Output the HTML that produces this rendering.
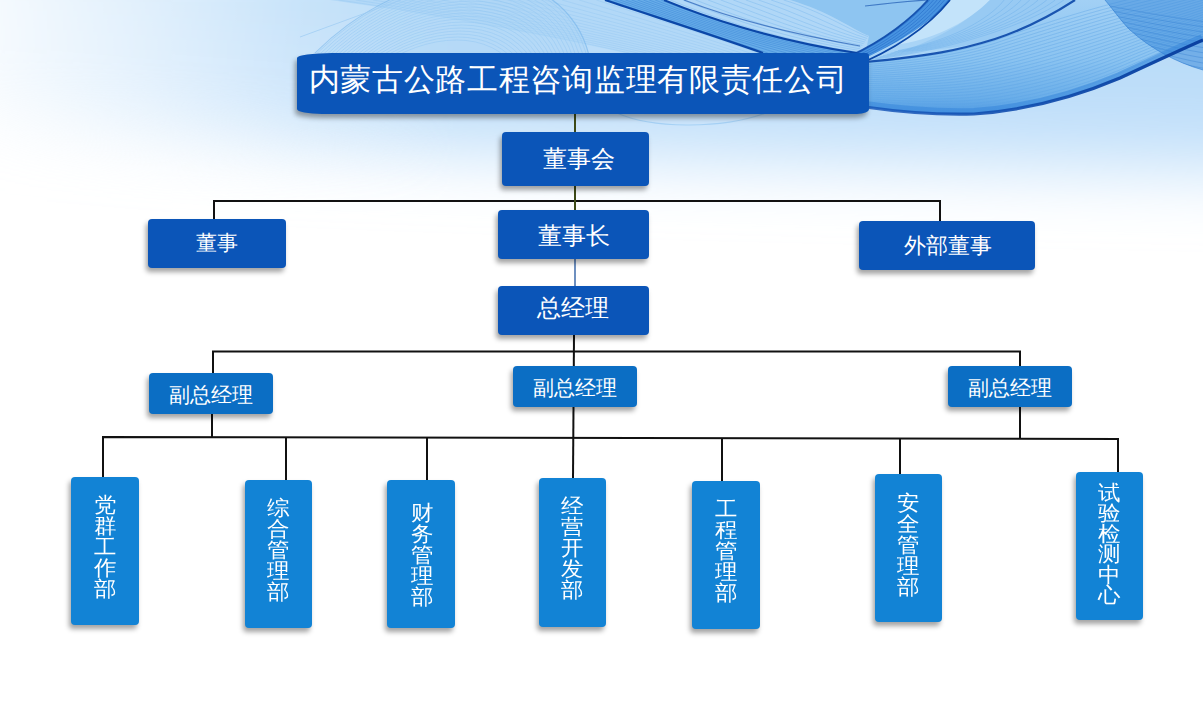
<!DOCTYPE html>
<html><head><meta charset="utf-8">
<style>
html,body{margin:0;padding:0;}
body{width:1203px;height:705px;position:relative;overflow:hidden;background:#fff;font-family:"Liberation Sans",sans-serif;}
#bg{position:absolute;left:0;top:0;width:1203px;height:705px;}
#ln{position:absolute;left:0;top:0;width:1203px;height:705px;}
.b{position:absolute;box-sizing:border-box;color:#fff;text-align:center;border-radius:4px;background:#0b55b8;box-shadow:-2px 4px 5px rgba(0,0,0,.36);}
.b span{position:absolute;left:0;right:0;white-space:nowrap;}
.p{background:#0b6ec4;}
.d{background:#1283d5;}
.v span{white-space:normal;width:22px;right:auto;word-break:break-all;}
</style></head><body>
<svg id="bg" viewBox="0 0 1203 705">
<defs>
<filter id="bl30" x="-50%" y="-50%" width="200%" height="200%"><feGaussianBlur stdDeviation="34"/></filter>
<linearGradient id="gs" x1="0" y1="0" x2="0" y2="115" gradientUnits="userSpaceOnUse">
<stop offset="0" stop-color="#a2d0f5"/>
<stop offset="0.5" stop-color="#8cc4f1"/>
<stop offset="0.85" stop-color="#6aaee9"/>
<stop offset="1" stop-color="#4f9ae3"/>
</linearGradient>
<linearGradient id="ge" x1="865" y1="0" x2="1203" y2="0" gradientUnits="userSpaceOnUse">
<stop offset="0" stop-color="#1454b8" stop-opacity="0.8"/>
<stop offset="1" stop-color="#0a40a0"/>
</linearGradient>
</defs>
<rect x="0" y="0" width="1203" height="705" fill="#fff"/>
<linearGradient id="gh" x1="0" y1="0" x2="1203" y2="0" gradientUnits="userSpaceOnUse">
<stop offset="0" stop-color="#282828"/>
<stop offset="0.12" stop-color="#707070"/>
<stop offset="0.25" stop-color="#c8c8c8"/>
<stop offset="0.38" stop-color="#fff"/>
</linearGradient>
<mask id="mh" maskUnits="userSpaceOnUse" x="0" y="0" width="1203" height="705"><rect x="0" y="0" width="1203" height="705" fill="url(#gh)"/></mask>
<g mask="url(#mh)"><g filter="url(#bl30)">
<path d="M-80 -80H1300V172C1000 166 650 160 300 146C150 136 40 125 -80 115Z" fill="#c2e0fa"/>
<path d="M-80 -80H1300V90C900 80 500 60 -80 20Z" fill="#b8dbf8"/>
</g></g>
<path d="M330.0 0.0C430.0 14.0 540.0 34.0 625.0 53.0L763.0 53.0C715.0 36.0 665.0 20.0 605.0 0.0 Z" fill="#b2d8f7" opacity="1"/>
<path d="M338.6 0.0C437.3 14.2 545.5 34.1 629.3 53.0 M355.8 0.0C452.0 14.6 556.4 34.2 637.9 53.0 M373.0 0.0C466.7 14.9 567.3 34.3 646.6 53.0 M390.2 0.0C481.4 15.3 578.3 34.4 655.2 53.0 M407.3 0.0C496.1 15.7 589.2 34.6 663.8 53.0 M424.5 0.0C510.8 16.1 600.2 34.7 672.4 53.0 M441.7 0.0C525.5 16.4 611.1 34.8 681.1 53.0 M458.9 0.0C540.2 16.8 622.0 34.9 689.7 53.0 M476.1 0.0C554.8 17.2 633.0 35.1 698.3 53.0 M493.3 0.0C569.5 17.6 643.9 35.2 706.9 53.0 M510.5 0.0C584.2 17.9 654.8 35.3 715.6 53.0 M527.7 0.0C598.9 18.3 665.8 35.4 724.2 53.0 M544.8 0.0C613.6 18.7 676.7 35.6 732.8 53.0 M562.0 0.0C628.3 19.1 687.7 35.7 741.4 53.0 M579.2 0.0C643.0 19.4 698.6 35.8 750.1 53.0 M596.4 0.0C657.7 19.8 709.5 35.9 758.7 53.0" fill="none" stroke="#8fc5f2" stroke-width="0.8" opacity="0.45"/>
<clipPath id="cdome"><path d="M250 0H605C665 20 715 36 763 53H250Z"/></clipPath>
<g clip-path="url(#cdome)"><g transform="translate(420 140) skewX(-20) translate(-420 -140)"><circle cx="420" cy="140" r="162" fill="#a9d4f6" opacity="0.4"/><g fill="none" stroke="#8ec4f2" stroke-width="0.7" opacity="0.55"><circle cx="420" cy="140" r="100"/><circle cx="420" cy="140" r="103"/><circle cx="420" cy="140" r="106"/><circle cx="420" cy="140" r="109"/><circle cx="420" cy="140" r="112"/><circle cx="420" cy="140" r="115"/><circle cx="420" cy="140" r="118"/><circle cx="420" cy="140" r="121"/><circle cx="420" cy="140" r="124"/><circle cx="420" cy="140" r="127"/><circle cx="420" cy="140" r="130"/><circle cx="420" cy="140" r="133"/><circle cx="420" cy="140" r="136"/><circle cx="420" cy="140" r="139"/><circle cx="420" cy="140" r="142"/><circle cx="420" cy="140" r="145"/><circle cx="420" cy="140" r="148"/><circle cx="420" cy="140" r="151"/><circle cx="420" cy="140" r="154"/><circle cx="420" cy="140" r="157"/><circle cx="420" cy="140" r="160"/></g><circle cx="420" cy="140" r="162" fill="none" stroke="#6aaeea" stroke-width="1" opacity="0.5"/></g><path d="M300 37L401 0" stroke="#9ccbf3" stroke-width="1" opacity="0.7"/></g>
<path d="M605.0 0.0C665.0 20.0 715.0 36.0 763.0 53.0L857.0 53.0C770.0 40.0 700.0 15.0 664.0 0.0 Z" fill="#68ade9" opacity="1"/>
<path d="M608.0 0.0C666.8 19.8 717.8 36.2 767.7 53.0 M613.9 0.0C670.2 19.2 723.2 36.6 777.1 53.0 M619.8 0.0C673.8 18.8 728.8 37.0 786.5 53.0 M625.6 0.0C677.2 18.2 734.2 37.4 795.9 53.0 M631.5 0.0C680.8 17.8 739.8 37.8 805.3 53.0 M637.5 0.0C684.2 17.2 745.2 38.2 814.7 53.0 M643.4 0.0C687.8 16.8 750.8 38.6 824.1 53.0 M649.2 0.0C691.2 16.2 756.2 39.0 833.5 53.0 M655.1 0.0C694.8 15.8 761.8 39.4 842.9 53.0 M661.0 0.0C698.2 15.2 767.2 39.8 852.3 53.0" fill="none" stroke="#3580d3" stroke-width="0.8" opacity="0.55"/>
<path d="M664 0C700 15 770 40 857 53L875 53 869 36C850 28 830 12 790 0Z" fill="#b0d7f7"/>
<path d="M670.3 0.0C706.5 14.8 774.0 39.4 857.6 52.1 M682.9 0.0C719.5 14.6 782.0 38.2 858.8 50.4 M695.5 0.0C732.5 14.2 790.0 37.0 860.0 48.8 M708.1 0.0C745.5 13.9 798.0 35.8 861.2 47.1 M720.7 0.0C758.5 13.7 806.0 34.6 862.4 45.4 M733.3 0.0C771.5 13.3 814.0 33.4 863.6 43.6 M745.9 0.0C784.5 13.1 822.0 32.2 864.8 42.0 M758.5 0.0C797.5 12.8 830.0 31.0 866.0 40.2 M771.1 0.0C810.5 12.4 838.0 29.8 867.2 38.5 M783.7 0.0C823.5 12.1 846.0 28.6 868.4 36.8" fill="none" stroke="#6aaeea" stroke-width="0.7" opacity="0.5"/>
<path d="M790 0C830 12 850 28 869 36L865 55C892 32 914 16 928 0Z" fill="#8ec5f1"/>
<path d="M850.0 56.0C885.0 40.0 912.0 18.0 928.0 0.0L950.0 0.0C932.0 22.0 900.0 48.0 850.0 68.0 Z" fill="#4793e1" opacity="1"/>
<path d="M850.0 57.0C886.2 40.7 913.7 18.3 929.8 0.0 M850.0 59.0C888.8 42.0 917.0 19.0 933.5 0.0 M850.0 61.0C891.2 43.3 920.3 19.7 937.2 0.0 M850.0 63.0C893.8 44.7 923.7 20.3 940.8 0.0 M850.0 65.0C896.2 46.0 927.0 21.0 944.5 0.0 M850.0 67.0C898.8 47.3 930.3 21.7 948.2 0.0" fill="none" stroke="#1d62c2" stroke-width="0.8" opacity="0.6"/>
<path d="M950 0C932 22 900 42 865 58V62C930 56 960 50 995 39C1025 29 1052 15 1075 0Z" fill="#a9d4f6"/>
<path d="M950 0C935 18 915 32 895 45C930 40 965 25 990 0Z" fill="#c3e3fa"/>
<path d="M990 0C970 20 940 38 900 52C950 50 975 44 995 39C1025 29 1052 15 1075 0Z" fill="#98caf3"/>
<path d="M898.1 50.6C950.6 40.6 988.4 20.0 1004.2 0.0 M894.4 51.9C951.9 41.9 995.3 20.0 1012.8 0.0 M890.6 53.1C953.1 43.1 1002.2 20.0 1021.2 0.0 M886.9 54.4C954.4 44.4 1009.1 20.0 1029.8 0.0 M883.1 55.6C955.6 45.6 1015.9 20.0 1038.2 0.0 M879.4 56.9C956.9 46.9 1022.8 20.0 1046.8 0.0 M875.6 58.1C958.1 48.1 1029.7 20.0 1055.2 0.0 M871.9 59.4C959.4 49.4 1036.6 20.0 1063.8 0.0" fill="none" stroke="#6aaeea" stroke-width="0.7" opacity="0.6"/>
<clipPath id="clow"><path d="M865.0 62.0C930.0 56.0 960.0 50.0 995.0 39.0C1025.0 29.0 1052.0 15.0 1075.0 0.0 L1203 0 L1203.0 40.0C1180.0 50.0 1150.0 64.0 1120.0 78.0C1080.0 95.0 1030.0 110.0 974.0 114.0C940.0 115.0 900.0 112.0 865.0 107.0 Z"/></clipPath>
<path d="M865.0 62.0C930.0 56.0 960.0 50.0 995.0 39.0C1025.0 29.0 1052.0 15.0 1075.0 0.0 L1203 0 L1203.0 40.0C1180.0 50.0 1150.0 64.0 1120.0 78.0C1080.0 95.0 1030.0 110.0 974.0 114.0C940.0 115.0 900.0 112.0 865.0 107.0 Z" fill="url(#gs)"/>
<g clip-path="url(#clow)"><path d="M865.0 62.9C929.4 57.2 959.6 51.4 994.6 40.6C1030.0 27.8 1080.0 11.8 1120.0 1.6C1159.8 -8.5 1184.9 -12.7 1203.0 -16.8 M865.0 64.8C928.1 59.5 958.8 54.1 993.7 43.7C1030.0 31.2 1080.0 15.3 1120.0 4.9C1159.4 -5.4 1184.7 -10.0 1203.0 -14.4 M865.0 66.7C926.9 61.8 957.9 56.8 992.8 46.8C1030.0 34.8 1080.0 18.9 1120.0 8.1C1159.0 -2.3 1184.5 -7.3 1203.0 -12.0 M865.0 68.6C925.6 64.2 957.1 59.5 991.9 49.9C1030.0 38.2 1080.0 22.4 1120.0 11.4C1158.5 0.8 1184.3 -4.7 1203.0 -9.5 M865.0 70.4C924.4 66.5 956.2 62.2 991.1 53.1C1030.0 41.8 1080.0 25.9 1120.0 14.6C1158.1 3.9 1184.1 -2.0 1203.0 -7.1 M865.0 72.3C923.1 68.8 955.4 64.9 990.2 56.2C1030.0 45.2 1080.0 29.5 1120.0 17.9C1157.7 7.0 1183.9 0.7 1203.0 -4.7 M865.0 74.2C921.9 71.2 954.6 67.6 989.3 59.3C1030.0 48.8 1080.0 33.0 1120.0 21.1C1157.3 10.0 1183.6 3.3 1203.0 -2.3 M865.0 76.1C920.6 73.5 953.8 70.3 988.4 62.4C1030.0 52.2 1080.0 36.6 1120.0 24.4C1156.9 13.1 1183.4 6.0 1203.0 0.1 M865.0 77.9C919.4 75.8 952.9 73.0 987.6 65.6C1030.0 55.8 1080.0 40.1 1120.0 27.6C1156.5 16.2 1183.2 8.7 1203.0 2.5 M865.0 79.8C918.1 78.2 952.1 75.7 986.7 68.7C1030.0 59.2 1080.0 43.6 1120.0 30.9C1156.0 19.3 1183.0 11.3 1203.0 5.0 M865.0 81.7C916.9 80.5 951.2 78.4 985.8 71.8C1030.0 62.8 1080.0 47.2 1120.0 34.1C1155.6 22.4 1182.8 14.0 1203.0 7.4 M865.0 83.6C915.6 82.8 950.4 81.1 984.9 74.9C1030.0 66.2 1080.0 50.7 1120.0 37.4C1155.2 25.5 1182.6 16.7 1203.0 9.8 M865.0 85.4C914.4 85.2 949.6 83.9 984.1 78.1C1030.0 69.8 1080.0 54.3 1120.0 40.6C1154.8 28.5 1182.4 19.3 1203.0 12.2 M865.0 87.3C913.1 87.5 948.8 86.6 983.2 81.2C1030.0 73.2 1080.0 57.8 1120.0 43.9C1154.4 31.6 1182.2 22.0 1203.0 14.6 M865.0 89.2C911.9 89.8 947.9 89.3 982.3 84.3C1030.0 76.8 1080.0 61.4 1120.0 47.1C1154.0 34.7 1182.0 24.7 1203.0 17.0 M865.0 91.1C910.6 92.2 947.1 92.0 981.4 87.4C1030.0 80.2 1080.0 64.9 1120.0 50.4C1153.5 37.8 1181.8 27.3 1203.0 19.5 M865.0 92.9C909.4 94.5 946.2 94.7 980.6 90.6C1030.0 83.8 1080.0 68.4 1120.0 53.6C1153.1 40.9 1181.6 30.0 1203.0 21.9 M865.0 94.8C908.1 96.8 945.4 97.4 979.7 93.7C1030.0 87.2 1080.0 72.0 1120.0 56.9C1152.7 44.0 1181.4 32.7 1203.0 24.3 M865.0 96.7C906.9 99.2 944.6 100.1 978.8 96.8C1030.0 90.8 1080.0 75.5 1120.0 60.1C1152.3 47.0 1181.1 35.3 1203.0 26.7 M865.0 98.6C905.6 101.5 943.8 102.8 977.9 99.9C1030.0 94.2 1080.0 79.1 1120.0 63.4C1151.9 50.1 1180.9 38.0 1203.0 29.1 M865.0 100.4C904.4 103.8 942.9 105.5 977.1 103.1C1030.0 97.8 1080.0 82.6 1120.0 66.6C1151.5 53.2 1180.7 40.7 1203.0 31.5 M865.0 102.3C903.1 106.2 942.1 108.2 976.2 106.2C1030.0 101.2 1080.0 86.1 1120.0 69.9C1151.0 56.3 1180.5 43.3 1203.0 34.0 M865.0 104.2C901.9 108.5 941.2 110.9 975.3 109.3C1030.0 104.8 1080.0 89.7 1120.0 73.1C1150.6 59.4 1180.3 46.0 1203.0 36.4 M865.0 106.1C900.6 110.8 940.4 113.6 974.4 112.4C1030.0 108.2 1080.0 93.2 1120.0 76.4C1150.2 62.5 1180.1 48.7 1203.0 38.8" fill="none" stroke="#5aa2e6" stroke-width="0.8" opacity="0.5"/></g>
<path d="M1105 0C1115 12 1122 22 1130 30C1150 48 1175 62 1203 70V0Z" fill="#3a8ada" opacity="0.55"/>
<clipPath id="cbowl"><path d="M1105 0C1115 12 1122 22 1130 30C1150 48 1175 62 1203 70V0Z"/></clipPath>
<g clip-path="url(#cbowl)"><path d="M1092.0 2.5C1131.5 10.6 1170.8 17.6 1210.0 22.6 M1096.0 7.5C1134.5 15.8 1172.2 22.9 1210.0 27.8 M1100.0 12.5C1137.5 21.0 1173.8 28.2 1210.0 33.0 M1104.0 17.5C1140.5 26.2 1175.2 33.5 1210.0 38.2 M1108.0 22.5C1143.5 31.4 1176.8 38.9 1210.0 43.4 M1112.0 27.5C1146.5 36.6 1178.2 44.2 1210.0 48.6 M1116.0 32.5C1149.5 41.8 1179.8 49.5 1210.0 53.8 M1120.0 37.5C1152.5 47.0 1181.2 54.8 1210.0 59.0 M1124.0 42.5C1155.5 52.2 1182.8 60.0 1210.0 64.2 M1128.0 47.5C1158.5 57.4 1184.2 65.3 1210.0 69.4" fill="none" stroke="#2f7cd0" stroke-width="0.8" opacity="0.45"/></g>
<g fill="none" stroke="#0b47a8">
<path d="M605 0C665 20 715 36 763 53" stroke-width="2.2"/>
<path d="M664 0C700 15 770 40 857 53" stroke-width="2"/>
<path d="M684 0C720 14 780 32 860 46" stroke-width="1.2" opacity="0.6"/>
<path d="M850 56C885 40 912 18 928 0" stroke-width="1.8" opacity="0.9"/>
<path d="M850 68C900 48 932 22 950 0" stroke-width="1.8"/>
<path d="M865 62C930 56 960 50 995 39C1025 29 1052 15 1075 0" stroke-width="2.2" opacity="0.9"/>
<path d="M865 6C890 3 910 1 928 0" stroke-width="1.2" opacity="0.6"/>
</g>
<path d="M1105 0C1115 12 1122 22 1130 30C1150 48 1175 62 1203 70" fill="none" stroke="#2f7cd0" stroke-width="1" opacity="0.6"/>
<g clip-path="url(#clow)"><path d="M865 107C900 112 940 115 974 114C1030 110 1080 95 1120 78C1150 64 1180 50 1203 40" fill="none" stroke="#3383d9" stroke-width="12" opacity="0.5"/></g>
<path d="M865 107C900 112 940 115 974 114C1030 110 1080 95 1120 78C1150 64 1180 50 1203 40" fill="none" stroke="url(#ge)" stroke-width="3.2"/>
<path d="M617 113C650 128 720 130 766 113" fill="none" stroke="#a6d1f5" stroke-width="1.2"/>
</svg>
<svg id="ln" viewBox="0 0 1203 705">
<g stroke="#111" stroke-width="2" fill="none">
<path d="M214 219V201H940V221"/>
<path d="M213 373V351.5H1020V366"/>
<path d="M574 335L573 478"/>
<path d="M212 414V437"/>
<path d="M1020 406V438.5"/>
<path d="M103 477V437L1118 439V472"/>
<path d="M286 480V437.5"/>
<path d="M427 480V438"/>
<path d="M722 481V438.5"/>
<path d="M900 474V438.5"/>
</g>
<path d="M575 113V210" stroke="#3d4a17" stroke-width="2"/>
<path d="M575 259V286" stroke="#4a74b0" stroke-width="1.6"/>
</svg>

<div class="b" style="left:297px;top:53px;width:572px;height:61px;border-radius:35px 3px 12px 25px/5px 3px 5px 5px;"><span style="top:4.5px;font-size:31px;line-height:44px;letter-spacing:0.7px;padding-right:10px;">内蒙古公路工程咨询监理有限责任公司</span></div>

<div class="b" style="left:502px;top:132px;width:147px;height:54px;"><span style="top:5px;font-size:24px;line-height:44px;padding-left:7px;">董事会</span></div>
<div class="b" style="left:148px;top:219px;width:138px;height:49px;"><span style="top:2px;font-size:21px;line-height:44px;">董事</span></div>
<div class="b" style="left:498px;top:210px;width:151px;height:49px;"><span style="top:4px;font-size:24px;line-height:44px;">董事长</span></div>
<div class="b" style="left:498px;top:286px;width:151px;height:49px;"><span style="top:-0.5px;padding-right:2px;font-size:24px;line-height:44px;">总经理</span></div>
<div class="b" style="left:859px;top:221px;width:176px;height:49px;"><span style="top:3px;font-size:21.5px;padding-left:1px;line-height:44px;">外部董事</span></div>

<div class="b p" style="left:149px;top:373px;width:124px;height:41px;"><span style="top:0;font-size:21px;line-height:44px;">副总经理</span></div>
<div class="b p" style="left:513px;top:366px;width:124px;height:41px;"><span style="top:0;font-size:21px;line-height:44px;">副总经理</span></div>
<div class="b p" style="left:948px;top:366px;width:124px;height:41px;"><span style="top:0;font-size:21px;line-height:44px;">副总经理</span></div>

<div class="b d v" style="left:71px;top:477px;width:68px;height:148px;"><span style="left:22px;top:16.5px;font-size:21px;line-height:21px;transform:scaleX(1.07);transform-origin:0 0;">党群工作部</span></div>
<div class="b d v" style="left:245px;top:480px;width:67px;height:148px;"><span style="left:21px;top:17px;font-size:21px;line-height:21px;transform:scaleX(1.07);transform-origin:0 0;">综合管理部</span></div>
<div class="b d v" style="left:387px;top:480px;width:68px;height:148px;"><span style="left:23px;top:22px;font-size:21px;line-height:21px;transform:scaleX(1.07);transform-origin:0 0;">财务管理部</span></div>
<div class="b d v" style="left:539px;top:478px;width:67px;height:149px;"><span style="left:21px;top:17px;font-size:21px;line-height:21px;transform:scaleX(1.07);transform-origin:0 0;">经营开发部</span></div>
<div class="b d v" style="left:692px;top:481px;width:68px;height:148px;"><span style="left:22px;top:17px;font-size:21px;line-height:21px;transform:scaleX(1.07);transform-origin:0 0;">工程管理部</span></div>
<div class="b d v" style="left:875px;top:474px;width:67px;height:148px;"><span style="left:21px;top:18px;font-size:21px;line-height:21px;transform:scaleX(1.07);transform-origin:0 0;">安全管理部</span></div>
<div class="b d v" style="left:1076px;top:472px;width:67px;height:148px;"><span style="left:21px;top:10.5px;font-size:21px;line-height:20.5px;transform:scaleX(1.07);transform-origin:0 0;">试验检测中心</span></div>
</body></html>
